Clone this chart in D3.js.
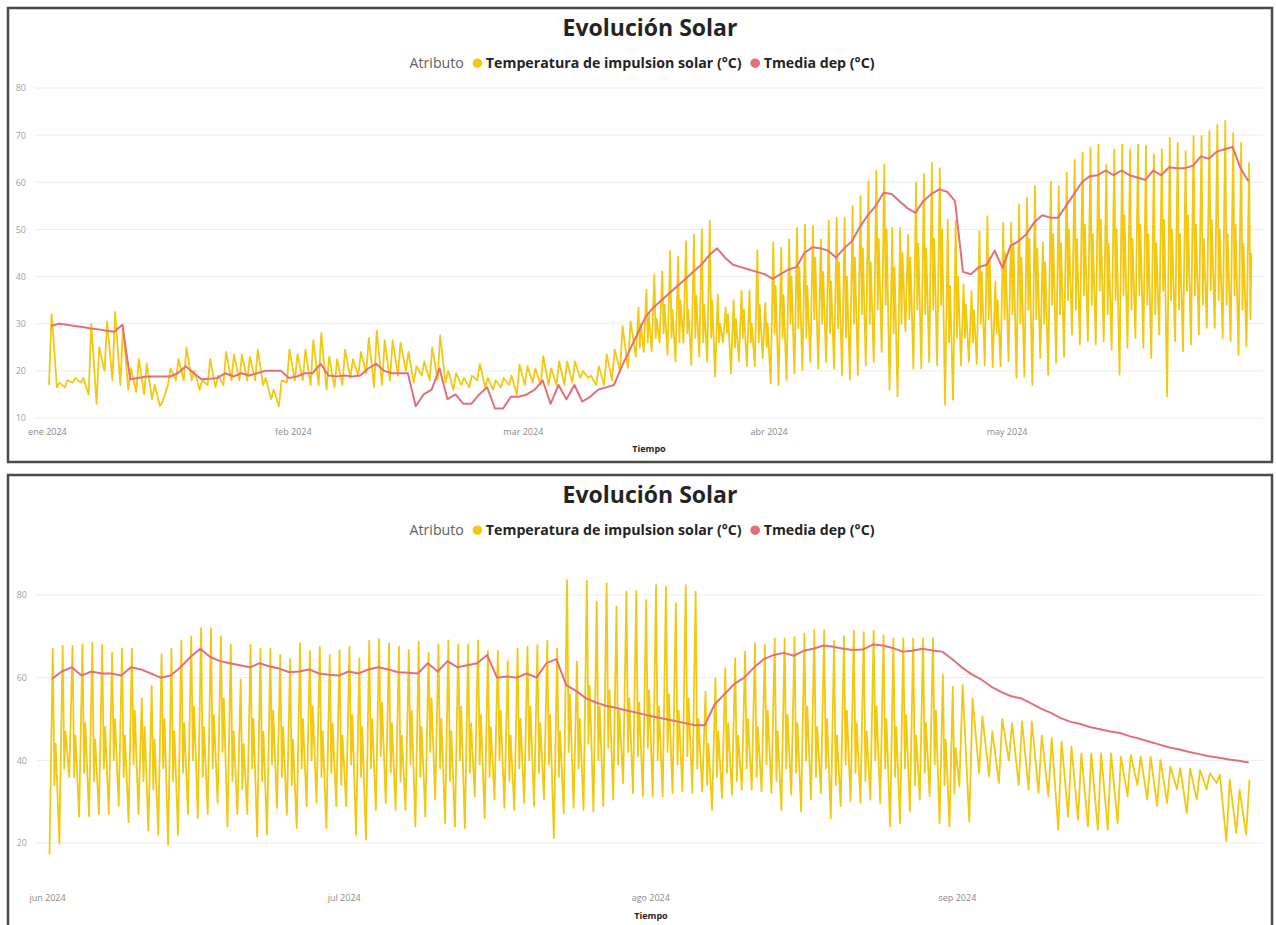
<!DOCTYPE html>
<html lang="es">
<head>
<meta charset="utf-8">
<title>Evolución Solar</title>
<style>
  body { margin: 0; background: #fff; }
  svg { display: block; font-family: "Open Sans", "Noto Sans", sans-serif; }
  .tick line { display: none; }
  .domain { display: none; }
</style>
</head>
<body>
<svg id="chart" width="1276" height="925"></svg>
<script src="https://d3js.org/d3.v7.min.js"></script>
<script>

const monthAbbr = ['ene', 'feb', 'mar', 'abr', 'may', 'jun', 'jul', 'ago', 'sep', 'oct', 'nov', 'dic'];
const seriesNames = ['Temperatura de impulsion solar (°C)', 'Tmedia dep (°C)'];
const legendTitle = 'Atributo';
const chartTitle = 'Evolución Solar';
const axisTitle = 'Tiempo';

// ---- panel 1: ene - may 2024 (one value per day) ----
const topStart = '2024-01-01';
const topEnd = '2024-06-01';
const topMonths = ['2024-01-01', '2024-02-01', '2024-03-01', '2024-04-01', '2024-05-01'];
const topYTicks = [10, 20, 30, 40, 50, 60, 70, 80];

// daily peak of the solar supply temperature
const topPeak = [
  32, 17.5, 18, 18.5, 18.5, 30, 25, 30.5, 32.5, 29.5,
  20.5, 22.5, 21.5, 17, 13.5, 20.5, 22.5, 25, 20, 18,
  22.5, 19, 24, 23.5, 23.5, 23, 24.5, 18.5, 16, 18,
  24.5, 23.5, 24.5, 26.5, 28, 23, 22.5, 24.5, 22.5, 24,
  27, 28.5, 26.5, 26.5, 26, 24, 21, 22, 25, 27.5,
  20, 19.5, 18.5, 19, 21.5, 18.5, 18, 18.5, 19, 21.3,
  21, 20.5, 23.1, 20.5, 22, 22, 22, 20, 19, 21,
  23.5, 24.5, 29.5, 30.5, 33.4, 37.2, 40.4, 41.1, 45.4, 44.3,
  47.5, 48.9, 50, 51.8, 36.2, 33.4, 35, 37, 37, 45.5,
  34.4, 47.2, 46.1, 47.9, 50.3, 51, 50.7, 47.9, 51.8, 52.5,
  52.5, 55, 57.1, 60.2, 62.4, 63.8, 50.3, 50.3, 48.9, 59.9,
  61.7, 64.1, 63, 52.1, 51.8, 38.3, 36.9, 49.6, 52.8, 39,
  51.4, 51.4, 55.3, 56.7, 59.2, 47.2, 60.2, 59.2, 62, 64.8,
  66.3, 67.3, 68, 63.8, 67, 68, 67, 68, 67.7, 65.9,
  67, 69.4, 68.4, 66.6, 69.8, 69.8, 70.9, 72.3, 73, 70.5,
  68.4, 64.1
];

// daily low of the solar supply temperature
const topLow = [
  17, 16.5, 16.5, 17.5, 17.5, 15, 13, 20, 18, 17,
  16, 15.5, 15, 14, 12.5, 17, 18, 18, 18, 16,
  17, 16.5, 17, 18, 18, 18, 18, 17, 14, 12.5,
  17.5, 18, 18, 17, 17, 16, 16.5, 17, 18.5, 19,
  19.5, 16.5, 17, 18, 19, 20, 17.5, 19, 18, 18,
  17.5, 16, 17, 16.5, 18, 16.5, 16, 16.5, 17, 15,
  17, 17.5, 17, 17, 17, 17, 17.5, 18.5, 18.5, 17,
  17, 18, 20, 20.6, 23, 24, 24.2, 26, 23.4, 22,
  26, 21.3, 23, 22, 18.8, 26, 19.5, 22, 21, 21,
  22.7, 17.4, 17, 18.1, 19.5, 20.2, 21.9, 20.5, 21.9, 20.5,
  19.1, 18.1, 19.1, 21.2, 21.9, 24, 16, 14.6, 28.4, 20.5,
  20.5, 21.9, 21.2, 12.8, 13.9, 21.2, 21.9, 21.5, 21.2, 20.8,
  21, 22, 18.5, 18.8, 17, 22.7, 19.2, 21.7, 23, 27.7,
  25.6, 26.3, 25.6, 26.3, 24.5, 19.2, 24.9, 27, 24.9, 22.7,
  27.7, 14.6, 26.3, 24.2, 25.6, 27.7, 29.1, 29.1, 27, 26.3,
  23.4, 25.2
];

// evening dip and second (smaller) rise, from 15 mar on
const topEveFrom = 74;
const topEveDip = [
  25, 26, 27, 28, 27, 26, 28, 27, 26, 27,
  26, 28, 25, 27, 26, 26, 25,
  28, 27, 30, 29, 27, 31, 30, 28, 29, 27,
  30, 32, 30, 33, 34, 28, 30, 31, 33, 32,
  33, 34, 26, 27, 27, 26, 30, 31, 28, 31,
  32, 30, 33, 31, 30, 34, 32, 35, 33, 36,
  34, 37, 32, 35, 36, 33, 36, 34, 32, 37,
  35, 33, 37, 36, 34, 37, 35, 34, 36, 33, 31
];
const topEveBump = [
  30, 32, 31, 34, 33, 35, 33, 36, 34, 35,
  30, 32, 31, 33, 30, 34, 30,
  38, 36, 40, 42, 38, 44, 41, 39, 43, 40,
  44, 46, 43, 48, 50, 42, 45, 44, 47, 46,
  48, 50, 38, 40, 34, 33, 41, 44, 35, 45,
  47, 44, 48, 46, 43, 49, 47, 50, 48, 51,
  49, 52, 47, 50, 53, 48, 51, 49, 47, 52,
  50, 49, 53, 51, 48, 52, 50, 49, 51, 47, 45
];

// mean tank temperature
const topTank = [
  29.5, 30, 29.8, 29.5, 29.3, 29, 28.8, 28.5, 28.3, 29.8,
  18.2, 18.5, 18.8, 18.8, 18.8, 18.8, 19.5, 21, 19.5, 18.2,
  18.3, 18.5, 19.5, 18.8, 19.5, 19, 19.5, 20, 20, 20,
  18.5, 18.8, 19.5, 19.5, 21.5, 19, 18.8, 19, 18.8, 19,
  20.5, 21.5, 20, 19.5, 19.5, 19.5, 12.5, 15, 16, 20.5,
  14, 15, 13, 13, 15, 16.5, 12, 12, 14.5, 14.5,
  15, 16, 18, 13, 17, 14, 17, 13.5, 14.5, 16,
  16.5, 17, 21, 24.5, 28, 31.5, 33.5, 35, 36.5, 38,
  39.5, 41, 42.5, 44.5, 46, 44, 42.5, 42, 41.5, 41,
  40.5, 39.5, 40.5, 41.5, 42, 45, 46.2, 46, 45.5, 44,
  46, 47.5, 50.5, 53, 55, 57.8, 57.5, 56, 54.5, 53.5,
  56, 57.5, 58.5, 58, 56, 41, 40.5, 42, 42.5, 45.5,
  41.8, 46.5, 47.5, 49, 51.5, 53, 52.5, 52.5, 55, 57.5,
  60, 61.3, 61.5, 62.5, 61.5, 62.5, 61.5, 61, 60.5, 62.5,
  61.5, 63.2, 63, 63, 63.5, 65.5, 65, 66.5, 67, 67.5,
  63, 60.2
];

// ---- panel 2: jun - sep 2024 ----
const bottomStart = '2024-06-01';
const bottomEnd = '2024-10-01';
const bottomMonths = ['2024-06-01', '2024-07-01', '2024-08-01', '2024-09-01'];
const bottomYTicks = [20, 40, 60, 80];

const bottomPeak = [
  67, 67.7, 67.7, 68, 68.5, 68, 66, 67, 67, 55,
  58, 65.7, 67, 69, 70, 72, 72, 70, 68, 59.5,
  68, 67, 67, 65.5, 64.5, 68.3, 66.5, 67.5, 65.5, 66.7,
  67.5, 64.7, 68.9, 69.3, 68.3, 67.5, 66.7, 68.7, 66, 68,
  69, 68, 68, 69, 66.5, 66.5, 64, 67, 67.5, 67.9,
  68.9, 67.1, 83.6, 63.9, 83.4, 78.4, 82.8, 77.2, 80.8, 81,
  78.8, 82.4, 82, 78, 82.4, 80.8, 56.6, 59.9, 62.3, 64.7,
  66.3, 68.3, 67.9, 69.5, 69.5, 69.8, 70.7, 71.5, 71.5, 68.9,
  70.1, 71.4, 71, 71.4, 70.3, 69.5, 69.5, 69.5, 69.5, 69.5,
  60.7, 57.8, 58.2, 55, 50.6, 47, 50, 49, 49.5, 49.4,
  46, 45.4, 44.6, 43.3, 41.7, 41.7, 41.7, 41.7, 40.9, 41.3,
  40.9, 40.9, 40.1, 38.5, 38.1, 38, 37.7, 36.9, 36.5, 35.3,
  32.9, 35.3
];

const bottomLow = [
  17.2, 20, 36, 26.4, 26.5, 27, 27, 29, 25, 27,
  23, 22, 19.6, 22, 27, 26, 27, 29.7, 24, 27,
  27, 21.6, 22, 28.5, 26.8, 23.6, 28.9, 29.7, 23.6, 28.9,
  28.9, 22, 20.8, 28, 29.7, 28, 28, 24, 26.4, 30.5,
  24.8, 24, 23.6, 31.3, 26, 30.5, 28.5, 28, 29.7, 28.9,
  30.5, 21.2, 27.2, 28.5, 28, 27.6, 28.9, 30.5, 34.5, 32.1,
  31.3, 31.3, 31.3, 32.1, 32.5, 32.1, 32.5, 28, 30.9, 31.7,
  32.9, 32.9, 32.5, 32.1, 28, 31.7, 27.6, 30.5, 32.1, 26,
  28.9, 30.1, 29.7, 30.5, 29.7, 24, 24.8, 27.6, 30.5, 31.3,
  24.8, 24, 33.7, 25.2, 36.9, 36.1, 34.5, 40, 34, 32.9,
  32.1, 31.3, 23.2, 26.4, 25.6, 24, 23.2, 23.2, 24.8, 31.3,
  34, 30.5, 28.9, 29.7, 33, 27.2, 30.5, 33, 34.5, 20.4,
  22.4, 22
];

const bottomEveFrom = 0;
const bottomEveDip = [
  34, 38, 36, 37, 35, 38, 40, 36, 39, 35,
  33, 38, 35, 37, 40, 36, 38, 42, 35, 33,
  38, 35, 39, 36, 34, 38, 40, 36, 37, 34,
  39, 36, 38, 41, 37, 35, 39, 36, 42, 38,
  35, 40, 37, 39, 36, 40, 35, 38, 40, 37,
  39, 36, 42, 38, 44, 40, 43, 39, 42, 41,
  43, 40, 42, 39, 41, 38, 34, 36, 37, 35,
  38, 36, 39, 35, 38, 37, 40, 36, 38, 34,
  39, 37, 35, 40, 38, 36, 38, 34, 37, 39,
  34, 32
];
const bottomEveBump = [
  44, 47, 46, 49, 45, 48, 50, 46, 52, 48,
  45, 50, 47, 49, 53, 48, 51, 55, 47, 44,
  50, 47, 52, 48, 45, 50, 53, 47, 49, 46,
  51, 48, 50, 54, 49, 46, 52, 48, 55, 50,
  47, 53, 49, 51, 48, 52, 46, 50, 53, 49,
  51, 47, 56, 50, 58, 53, 57, 52, 55, 54,
  57, 53, 56, 52, 55, 50, 44, 47, 49, 46,
  50, 48, 52, 47, 51, 49, 53, 48, 50, 46,
  52, 49, 47, 53, 50, 48, 51, 46, 49, 52,
  45, 43
];

const bottomTank = [
  59.7, 61.5, 62.5, 60.5, 61.5, 61, 61, 60.5, 62.5, 62,
  61, 60, 60.5, 62.5, 65, 67, 65, 64, 63.5, 63,
  62.5, 63.5, 62.7, 62.2, 61.3, 61.5, 62, 61, 60.7, 60.5,
  61.5, 61, 62, 62.5, 62, 61.3, 61.2, 61, 63.5, 61.5,
  64, 62.5, 63, 63.5, 65.5, 60, 60.3, 60, 61, 60,
  63.5, 64.5, 58.2, 56.8, 55, 54, 53.2, 52.7, 52.1, 51.6,
  51, 50.5, 50, 49.5, 49, 48.5, 48.5, 53.5, 56, 58.5,
  60, 62.5, 64.5, 65.5, 66, 65.3, 66.5, 67, 67.8, 67.5,
  67, 66.7, 66.8, 68, 67.8, 67.2, 66.3, 66.5, 67, 66.6,
  66.3, 64.5, 62.5, 60.8, 59.5, 57.8, 56.5, 55.5, 55, 53.8,
  52.5, 51.5, 50.2, 49.3, 48.8, 48, 47.5, 47, 46.6, 45.8,
  45.2, 44.5, 43.8, 43.1, 42.6, 42, 41.5, 41, 40.6, 40.2,
  39.9, 39.5
];

const solarColor = '#F2C811';
const tankColor = '#E0707B';

const svg = d3.select('#chart');

function dailySolar(start, lows, peaks, eveFrom, dips, bumps) {
  const pts = [];
  lows.forEach((lo, i) => {
    const day = d3.utcDay.offset(start, i);
    pts.push({t: d3.utcHour.offset(day, 6), v: lo});
    pts.push({t: d3.utcHour.offset(day, 14), v: peaks[i]});
    const k = i - eveFrom;
    if (k >= 0 && k < dips.length) {
      pts.push({t: d3.utcHour.offset(day, 18), v: dips[k]});
      pts.push({t: d3.utcHour.offset(day, 21), v: bumps[k]});
    }
  });
  return pts;
}

function dailyTank(start, values) {
  return values.map((v, i) => ({t: d3.utcHour.offset(d3.utcDay.offset(start, i), 12), v: v}));
}

function drawPanel(p) {
  const g = svg.append('g');

  g.append('rect')
    .attr('x', p.box[0]).attr('y', p.box[1])
    .attr('width', p.box[2]).attr('height', p.box[3])
    .attr('fill', '#fff')
    .attr('stroke', '#4a4a4a')
    .attr('stroke-width', 2.5);

  g.append('text')
    .attr('x', p.titleX).attr('y', p.titleY)
    .attr('text-anchor', 'middle')
    .style('font-size', '23px')
    .style('font-weight', 700)
    .style('fill', '#252423')
    .text(chartTitle);

  // legend, laid out from measured text widths
  const legend = g.append('g');
  let cx = 0;
  const lab = legend.append('text')
    .attr('x', 0)
    .style('font-size', '14.2px')
    .style('fill', '#605e5c')
    .text(legendTitle);
  cx += lab.node().getComputedTextLength() + 9;
  [solarColor, tankColor].forEach((c, i) => {
    legend.append('circle').attr('cx', cx + 4.5).attr('cy', -4.8).attr('r', 4.8).attr('fill', c);
    cx += 13;
    const t = legend.append('text')
      .attr('x', cx)
      .style('font-size', '14.2px')
      .style('font-weight', 700)
      .style('fill', '#252423')
      .text(seriesNames[i]);
    cx += t.node().getComputedTextLength() + (i === 0 ? 9 : 0);
  });
  legend.attr('transform', `translate(${p.legendX - cx / 2},${p.legendY})`);

  const x = d3.scaleUtc()
    .domain([new Date(p.start), new Date(p.end)])
    .range(p.xRange);

  const y = d3.scaleLinear()
    .domain(p.yDomain)
    .range(p.yRange);

  // grid lines
  g.append('g')
    .selectAll('line')
    .data(p.yTicks)
    .enter()
    .append('line')
    .attr('x1', p.gridX[0]).attr('x2', p.gridX[1])
    .attr('y1', d => y(d)).attr('y2', d => y(d))
    .attr('stroke', '#ececec')
    .attr('stroke-width', 1);

  const yAxis = d3.axisLeft(y).tickValues(p.yTicks).tickSize(0).tickPadding(0);
  g.append('g')
    .attr('transform', `translate(${p.yLabelX},0)`)
    .call(yAxis)
    .call(a => a.selectAll('text').style('font-size', '9px').style('fill', '#a19f9d').style('font-family', '"Open Sans", sans-serif'));

  const xAxis = d3.axisBottom(x)
    .tickValues(p.months.map(m => new Date(m)))
    .tickFormat(d => monthAbbr[d.getUTCMonth()] + ' ' + d.getUTCFullYear())
    .tickSize(0)
    .tickPadding(0);
  g.append('g')
    .attr('transform', `translate(0,${p.monthY})`)
    .call(xAxis)
    .call(a => a.selectAll('text').style('font-size', '9px').style('fill', '#8a8886').style('font-family', '"Open Sans", sans-serif'));

  g.append('text')
    .attr('x', p.axisTitleX).attr('y', p.axisTitleY)
    .attr('text-anchor', 'middle')
    .style('font-size', '9px')
    .style('font-weight', 700)
    .style('fill', '#252423')
    .text(axisTitle);

  const line = d3.line()
    .x(d => x(d.t))
    .y(d => y(d.v));

  const start = new Date(p.start);

  g.append('path')
    .datum(dailySolar(start, p.low, p.peak, p.eveFrom, p.dip, p.bump))
    .attr('d', line)
    .attr('fill', 'none')
    .attr('stroke', solarColor)
    .attr('stroke-width', 1.8)
    .attr('stroke-linejoin', 'round');

  g.append('path')
    .datum(dailyTank(start, p.tank))
    .attr('d', line)
    .attr('fill', 'none')
    .attr('stroke', tankColor)
    .attr('stroke-width', 2)
    .attr('stroke-linejoin', 'round');
}

drawPanel({
  box: [8, 8, 1264, 454],
  titleX: 650, titleY: 36,
  legendX: 642, legendY: 68,
  start: topStart, end: topEnd, months: topMonths,
  xRange: [47, 1252.4],
  yDomain: [10, 80], yRange: [418, 88], yTicks: topYTicks,
  gridX: [35, 1263], yLabelX: 26,
  monthY: 429, axisTitleX: 649, axisTitleY: 452,
  peak: topPeak, low: topLow, tank: topTank,
  eveFrom: topEveFrom, dip: topEveDip, bump: topEveBump
});

drawPanel({
  box: [8, 475, 1264, 470],
  titleX: 650, titleY: 503,
  legendX: 642, legendY: 535,
  start: bottomStart, end: bottomEnd, months: bottomMonths,
  xRange: [47, 1253.6],
  yDomain: [20, 80], yRange: [843, 595], yTicks: bottomYTicks,
  gridX: [37, 1263], yLabelX: 27,
  monthY: 895, axisTitleX: 651, axisTitleY: 919,
  peak: bottomPeak, low: bottomLow, tank: bottomTank,
  eveFrom: bottomEveFrom, dip: bottomEveDip, bump: bottomEveBump
});

</script>
</body>
</html>
